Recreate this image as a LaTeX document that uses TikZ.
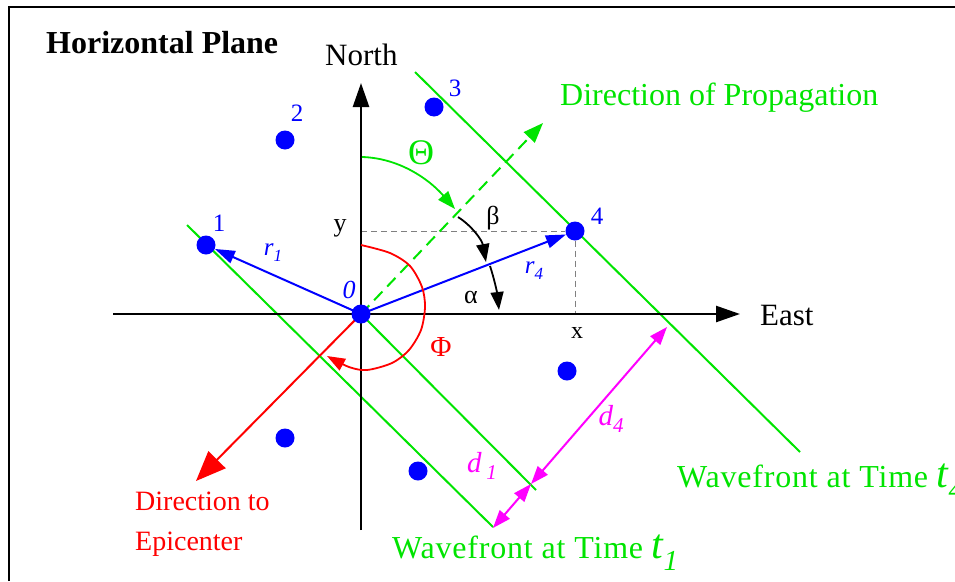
\documentclass[tikz,border=0pt]{standalone}
\usepackage{fontspec}
\setmainfont{Liberation Serif}
\usetikzlibrary{arrows.meta,calc}
\definecolor{wgreen}{RGB}{0,228,0}
\definecolor{mag}{RGB}{255,0,255}
\pgfdeclarelayer{bg}
\pgfsetlayers{bg,main}
\newcommand{\fs}[1]{\fontsize{#1}{#1}\selectfont}
\begin{document}
\begin{tikzpicture}[x=1pt,y=-1pt,
  dot/.style={circle,fill=blue,inner sep=0pt,minimum size=19pt},
  axisline/.style={line width=2.5pt,-{Triangle[length=24pt,width=16pt]}},
  vec/.style={blue,line width=2pt,-{Triangle[length=20pt,width=13pt]}},
  front/.style={wgreen,line width=2pt},
  guide/.style={gray,line width=1pt,dash pattern=on 6pt off 4pt},
  dist/.style={mag,line width=2pt,{Triangle[length=18pt,width=13pt]}-{Triangle[length=18pt,width=13pt]}},
  angarrow/.style={line width=1.8pt,-{Triangle[length=18pt,width=13pt]}},
  lbl/.style={inner sep=0pt,font=\fs{31}},
  num/.style={inner sep=0pt,text=blue,font=\fs{25}}
]
\useasboundingbox (0,0) rectangle (955,581);
% frame
\draw[line width=2pt] (9,581) -- (9,7) -- (955,7);

% stations
\node[dot] (s0) at (361,314) {};
\node[dot] (s1) at (206,245) {};
\node[dot] (s2) at (285,140) {};
\node[dot] (s3) at (434,107) {};
\node[dot] (s4) at (575,231) {};
\node[dot] (s5) at (285,438) {};
\node[dot] (s6) at (418,471) {};
\node[dot] (s7) at (567,371) {};

% coordinates
\coordinate (xl) at (113,314);
\coordinate (xr) at (740,314);
\coordinate (yb) at (361,530);
\coordinate (yt) at (361,83);
\coordinate (yax) at (361,231);
\coordinate (xax) at (575,314);
\coordinate (prop) at (543,123);
\coordinate (epi) at (196,481);
\coordinate (w4a) at (415,72);
\coordinate (w4b) at (800,452);
\coordinate (w1a) at (187,225);
\coordinate (w1b) at (493,527);
\coordinate (w0b) at (536,490);
\coordinate (m0) at (531,484);
\coordinate (m4) at (667,327);
\coordinate (m1) at (493,528);

\begin{pgfonlayer}{bg}
% wavefronts
\draw[front] (w4a) -- (w4b);
\draw[front] (w1a) -- (w1b);
\draw[front] (s0.center) -- (w0b);
% guides
\draw[guide] (yax) -- (s4);
\draw[guide] (s4) -- (xax);
% axes
\draw[axisline] (xl) -- (xr);
\draw[axisline] (yb) -- (yt);
% propagation
\draw[wgreen,line width=2pt,dash pattern=on 12pt off 7pt,-{Triangle[length=20pt,width=15pt]}] (s0.center) -- (prop);
% epicenter
\draw[red,line width=2pt,-{Triangle[length=30pt,width=24pt]}] (s0.center) -- (epi);
% position vectors
\draw[vec] (s0.center) -- (s1);
\draw[vec] (s0.center) -- (s4);
% distances
\draw[dist] (m0) -- (m4);
\draw[dist] (m1) -- (m0);
% angles
\draw[angarrow,wgreen] (362,157) .. controls (398,158) and (428,178) .. (455,209);
\draw[angarrow,red] plot[smooth] coordinates {(361,245) (390,253) (410,266) (422,287) (425,307) (421,330) (409,350) (392,363) (367,370) (349,367) (327,356)};
\draw[angarrow,black] (458,217) .. controls (472,226) and (482,240) .. (486,262);
\draw[angarrow,black] (490,266) .. controls (494,278) and (497,292) .. (499,310);
\end{pgfonlayer}

% labels
\node[lbl,anchor=base west,font=\fs{32}\bfseries] (title) at (46,53) {Horizontal Plane};
\node[lbl,anchor=base west] (north) at (325,65) {North};
\node[lbl,anchor=base west] (east) at (760,325) {East};
\node[lbl,anchor=base west,text=wgreen,font=\fs{32}] (dprop) at (560,105) {Direction of Propagation};
\node[lbl,anchor=base west,text=red,font=\fs{28}] (depi1) at (135,510) {Direction to};
\node[lbl,anchor=base west,text=red,font=\fs{28}] (depi2) at (135,550) {Epicenter};
\node[lbl,anchor=base west,text=wgreen,font=\fs{32}\addfontfeature{LetterSpace=2.5}] (wf4) at (677,487) {Wavefront at Time {\fs{42}\itshape t}\raisebox{-12pt}{\fs{29}\itshape 4}};
\node[lbl,anchor=base west,text=wgreen,font=\fs{32}\addfontfeature{LetterSpace=2.5}] (wf1) at (392,558) {Wavefront at Time {\fs{42}\itshape t}\raisebox{-12pt}{\fs{29}\itshape 1}};
\node[lbl,text=wgreen,font=\fs{36}] (theta) at (421,153) {Θ};
\node[lbl,text=red,font=\fs{29}] (phi) at (441,347) {Φ};
\node[lbl,font=\fs{26}] (alpha) at (471,297) {α};
\node[lbl,font=\fs{26}] (beta) at (493,218) {β};
\node[lbl,font=\fs{24}] (xlab) at (577,333) {x};
\node[lbl,font=\fs{26}] (ylab) at (340,228) {y};
\node[num] (n1) at (219,223) {1};
\node[num] (n2) at (297,113) {2};
\node[num] (n3) at (455,88) {3};
\node[num] (n4) at (597,216) {4};
\node[num,font=\fs{26}\itshape] (n0) at (349,290) {0};
\node[lbl,text=blue,font=\fs{25}] (r1) at (273,253) {\itshape r\raisebox{-6pt}{\fs{17}\itshape 1}};
\node[lbl,text=blue,font=\fs{25}] (r4) at (534,271) {\itshape r\raisebox{-6pt}{\fs{17}\itshape 4}};
\node[lbl,text=mag,font=\fs{29}] (d1) at (482,466) {\itshape d\,\raisebox{-7pt}{\fs{21}\itshape 1}};
\node[lbl,text=mag,font=\fs{29}] (d4) at (611,419) {\itshape d\raisebox{-7pt}{\fs{21}\itshape 4}};
\end{tikzpicture}
\end{document}
